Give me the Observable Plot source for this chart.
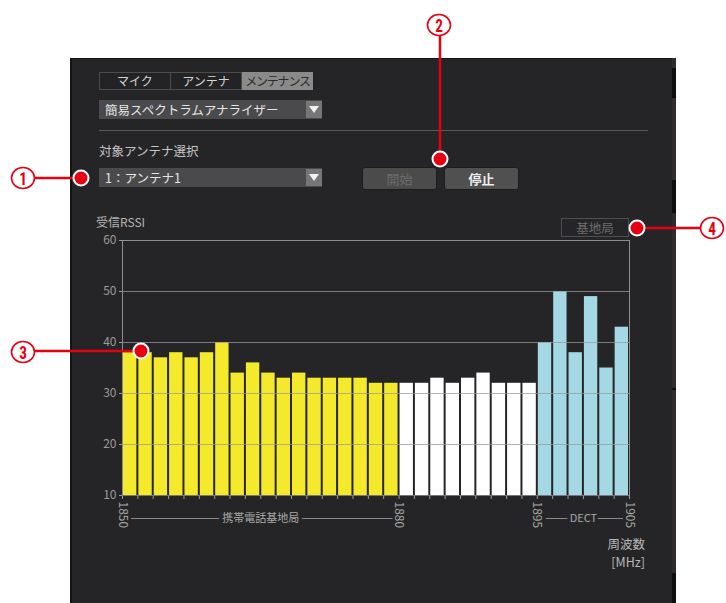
<!DOCTYPE html>
<html>
<head>
<meta charset="utf-8">
<script src="https://cdn.jsdelivr.net/npm/d3@7"></script>
<script src="https://cdn.jsdelivr.net/npm/@observablehq/plot@0.6"></script>
<style>
  html, body { margin: 0; padding: 0; background: #ffffff; }
  body { width: 726px; height: 603px; position: relative; overflow: hidden;
         font-family: "Noto Sans CJK JP", "Noto Sans", sans-serif; }
  .abs { position: absolute; box-sizing: border-box; }
  #panel { left: 70px; top: 58px; width: 603px; height: 545px; background: #252527;
           border-left: 2px solid #141414; border-top: 1px solid #141414; }
  #strip { left: 672px; top: 58px; width: 4px; height: 545px; background: #302b2c; }
  .seg { position: absolute; left: 0; width: 4px; background: #0e0e0e; }
  .tab { top: 72px; height: 18px; border: 1px solid #4c4c4c; background: #232325; color: #d4d4d4;
         font-size: 12px; line-height: 16px; text-align: center; white-space: nowrap; }
  .tab.sel { background: #8a8a8a; color: #2b2b2b; border-color: #8a8a8a; letter-spacing: -1.2px; }
  .dd { left: 99px; width: 223px; height: 19px; background: #4a4a4c; color: #e6e6e6;
        font-size: 12.5px; line-height: 19px; padding-left: 6px; }
  .dd .arr { position: absolute; right: 0; top: 1px; width: 16px; height: 17px; background: #767676; }
  .dd .arr::after { content: ""; position: absolute; left: 3px; top: 5px; border-left: 5px solid transparent;
        border-right: 5px solid transparent; border-top: 7px solid #f2f2f2; }
  .btn { top: 167px; height: 23px; width: 75px; border: 1px solid #1c1c1c; border-radius: 3px;
         background: #4b4b4b; font-size: 13px; line-height: 21px; text-align: center; }
  .unit { left: 596px; width: 49px; font-size: 12.5px; line-height: 14px; color: #b8b8b8; text-align: right; }
  #chart { left: 0; top: 200px; }
  #overlay { left: 0; top: 0; pointer-events: none; }
</style>
</head>
<body>
<div id="panel" class="abs"></div>
<div id="strip" class="abs">
  <div class="seg" style="top:10px;height:30px"></div>
  <div class="seg" style="top:122px;height:33px"></div>
  <div class="seg" style="top:330px;height:2px"></div>
  <div class="seg" style="top:515px;height:30px"></div>
</div>

<div class="abs tab" style="left:99px;width:72px">マイク</div>
<div class="abs tab" style="left:170px;width:72px">アンテナ</div>
<div class="abs tab sel" style="left:242px;width:71px">メンテナンス</div>

<div class="abs dd" style="top:100px">簡易スペクトラムアナライザー<div class="arr"></div></div>
<div class="abs" style="left:99px;top:130px;width:549px;height:1px;background:#5a5a5a"></div>
<div class="abs" style="left:99px;top:141px;font-size:12.5px;color:#c6c6c6">対象アンテナ選択</div>
<div class="abs dd" style="top:168px">1：アンテナ1<div class="arr"></div></div>

<div class="abs btn" style="left:362px;color:#6a6a6a">開始</div>
<div class="abs btn" style="left:444px;color:#eeeeee;background:#505050;font-weight:bold">停止</div>

<div class="abs" style="left:561px;top:218px;width:68px;height:19px;border:1px solid #4e4e4e;color:#6c6c6c;font-size:12.5px;line-height:17px;text-align:center">基地局</div>
<div class="abs" style="left:96px;top:213px;font-size:12px;color:#b4b4b4">受信RSSI</div>
<div class="abs unit" style="top:537px">周波数</div>
<div class="abs unit" style="top:555px">[MHz]</div>

<div id="chart" class="abs"></div>

<svg id="overlay" class="abs" width="726" height="603"></svg>

<script>
// ---- data ----
const bandEdges = [1850, 1880, 1895, 1905];          // MHz
const bandLabels = ["携帯電話基地局", "", "DECT"];
const bandColors = ["#f4e92b", "#ffffff", "#a3d8e4"];
const mobileRSSI = [38, 38, 37, 38, 37, 38, 40, 34, 36, 34, 33, 34, 33, 33, 33, 33, 32, 32];
const otherRSSI  = [32, 32, 33, 32, 33, 34, 32, 32, 32];
const dectRSSI   = [40, 50, 38, 49, 35, 43];
const xTickLabels = [1850, 1880, 1895, 1905];
const yTicks = [10, 20, 30, 40, 50, 60];
const yDomain = [10, 60];

// ---- build tables ----
const bandValues = [mobileRSSI, otherRSSI, dectRSSI];
const bands = bandValues.map((vals, b) => ({
  start: bandEdges[b], end: bandEdges[b + 1], label: bandLabels[b], color: bandColors[b], values: vals
}));
const bars = [];
const boundaries = [];
bands.forEach(band => {
  const step = (band.end - band.start) / band.values.length;
  band.values.forEach((v, i) => {
    const x1 = band.start + i * step;
    bars.push({x1, x2: x1 + step, value: v, color: band.color});
    boundaries.push(x1);
  });
});
boundaries.push(bandEdges[bandEdges.length - 1]);
const labeledBands = bands.filter(b => b.label);

const bg = "#252527";
const font = "'Noto Sans CJK JP', 'Noto Sans', sans-serif";

const chart = Plot.plot({
  width: 726,
  height: 403,
  marginLeft: 122,
  marginRight: 97,
  marginTop: 40,
  marginBottom: 108,
  style: {background: "transparent", color: "#9c9c9c", fontFamily: font, fontSize: "12px"},
  x: {domain: [bandEdges[0], bandEdges[bandEdges.length - 1]], ticks: boundaries, tickFormat: () => "",
      tickSize: 4, tickPadding: 0, label: null},
  y: {domain: yDomain, ticks: yTicks, tickSize: 3, tickPadding: 3, label: null},
  marks: [
    Plot.ruleY([yDomain[0]], {stroke: "#777777"}),
    Plot.rect(bars, {x1: "x1", x2: "x2", y1: () => yDomain[0], y2: "value", fill: d => d.color,
                     insetLeft: 1, insetRight: 1}),
    Plot.ruleY(yTicks.filter(t => t > yDomain[0] && t < yDomain[1]), {stroke: "#9a9a9a", strokeOpacity: 0.75}),
    Plot.ruleY([yDomain[1]], {stroke: "#8e8e8e"}),
    Plot.ruleX([bandEdges[0], bandEdges[bandEdges.length - 1]], {y1: yDomain[0], y2: yDomain[1], stroke: "#8e8e8e"}),
    Plot.text(xTickLabels, {x: d => d, y: () => yDomain[0], text: d => String(d), rotate: 90,
                            textAnchor: "start", dy: 6, fontSize: 12, fill: "#a6a6a6"}),
    Plot.ruleY(labeledBands, {y: () => yDomain[0], x1: "start", x2: "end", dy: 23,
                              insetLeft: 9, insetRight: 6, stroke: "#8a8a8a"}),
    Plot.text(labeledBands, {x: d => (d.start + d.end) / 2, y: () => yDomain[0], dy: 23, text: "label",
                             fontSize: 11, fill: "#a8a8a8", stroke: bg, strokeWidth: 7})
  ]
});
document.getElementById("chart").appendChild(chart);

// ---- callout annotations ----
const red = "#e60012";
const callouts = [
  {label: "1", lx: 23, ly: 178, x1: 35, y1: 178, dx: 81, dy: 178},
  {label: "2", lx: 439, ly: 25, x1: 440, y1: 36, dx: 440, dy: 159},
  {label: "3", lx: 23, ly: 352, x1: 35, y1: 351, dx: 141, dy: 351},
  {label: "4", lx: 712, ly: 228, x1: 700, y1: 228, dx: 637, dy: 228}
];
const svg = d3.select("#overlay");
callouts.forEach(c => {
  svg.append("line").attr("x1", c.x1).attr("y1", c.y1).attr("x2", c.dx).attr("y2", c.dy)
    .attr("stroke", red).attr("stroke-width", 2.5);
  svg.append("circle").attr("cx", c.dx).attr("cy", c.dy).attr("r", 7.5)
    .attr("fill", red).attr("stroke", "#ffffff").attr("stroke-width", 2);
  svg.append("ellipse").attr("cx", c.lx).attr("cy", c.ly).attr("rx", 11.5).attr("ry", 10.5)
    .attr("fill", "#ffffff").attr("stroke", red).attr("stroke-width", 1.6);
  svg.append("text").attr("x", c.lx).attr("y", c.ly + 1).attr("text-anchor", "middle")
    .attr("dominant-baseline", "central").attr("font-size", 18).attr("font-weight", "bold")
    .attr("font-family", "'Roboto Condensed', 'Liberation Sans Narrow', 'Roboto', sans-serif")
    .attr("transform", `translate(${c.lx},${c.ly}) scale(0.85,1) translate(${-c.lx},${-c.ly})`)
    .attr("fill", red).text(c.label);
});
</script>
</body>
</html>
